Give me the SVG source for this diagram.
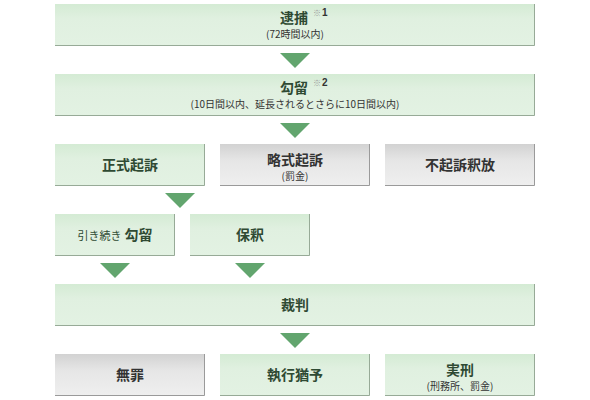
<svg xmlns="http://www.w3.org/2000/svg" width="590" height="400" viewBox="0 0 590 400">
<defs>
<linearGradient id="gG" x1="0" y1="0" x2="0" y2="1"><stop offset="0" stop-color="#d4ebd4"/><stop offset="0.35" stop-color="#e0f0e0"/><stop offset="1" stop-color="#e3f2e3"/></linearGradient>
<linearGradient id="gY" x1="0" y1="0" x2="0" y2="1"><stop offset="0" stop-color="#d2d2d2"/><stop offset="0.4" stop-color="#e6e6e6"/><stop offset="1" stop-color="#efefef"/></linearGradient>
</defs>
<style>
.g{fill:url(#gG)}
.y{fill:url(#gY)}
.sg{stroke:#97aa97;stroke-width:1;fill:none}
.sy{stroke:#9a9a9a;stroke-width:1;fill:none}
.t{font-family:"Noto Sans CJK JP","Noto Sans CJK SC",sans-serif;font-weight:bold;font-size:14px;text-anchor:middle}
.tg{fill:#2f4a33}
.ty{fill:#333}
.s{font-family:"Noto Sans CJK JP","Noto Sans CJK SC",sans-serif;font-size:10px;text-anchor:middle;fill:#333}
.n{font-family:"Noto Sans CJK JP",sans-serif;font-size:8px;fill:#999}
.nb{font-family:"Liberation Sans",sans-serif;font-size:10px;font-weight:bold;fill:#333}
.a{fill:#62a56e}
</style>
<g id="connectors">
<polygon class="a" points="280,53 310,53 295,68"/>
<polygon class="a" points="280,123 310,123 295,138"/>
<polygon class="a" points="165,193 195,193 180,208"/>
<polygon class="a" points="100,263 130,263 115,278"/>
<polygon class="a" points="235,263 265,263 250,278"/>
<polygon class="a" points="280,333 310,333 295,348"/>
</g>
<g id="arrest">
<rect class="g" x="55" y="4" width="480" height="42"/>
<polyline class="sg" points="534.5,4 534.5,45.5 55,45.5"/>
<text class="t tg" x="294" y="22.5">逮捕</text>
<text x="313" y="16"><tspan class="n">※</tspan><tspan class="nb" dx="1">1</tspan></text>
<text class="s" x="295" y="38">(72時間以内)</text>
</g>
<g id="detention">
<rect class="g" x="55" y="74" width="480" height="42"/>
<polyline class="sg" points="534.5,74 534.5,115.5 55,115.5"/>
<text class="t tg" x="294" y="92.5">勾留</text>
<text x="313" y="86"><tspan class="n">※</tspan><tspan class="nb" dx="1">2</tspan></text>
<text class="s" x="295" y="108">(10日間以内、延長されるとさらに10日間以内)</text>
</g>
<g id="formal">
<rect class="g" x="55" y="144" width="150" height="42"/>
<polyline class="sg" points="204.5,144 204.5,185.5 55,185.5"/>
<text class="t tg" x="130" y="170">正式起訴</text>
</g>
<g id="summary">
<rect class="y" x="220" y="144" width="150" height="42"/>
<polyline class="sy" points="369.5,144 369.5,185.5 220,185.5"/>
<text class="t ty" x="295" y="164.5">略式起訴</text>
<text class="s" x="295" y="180" font-size="9.5">(罰金)</text>
</g>
<g id="release">
<rect class="y" x="385" y="144" width="150" height="42"/>
<polyline class="sy" points="534.5,144 534.5,185.5 385,185.5"/>
<text class="t ty" x="460" y="170">不起訴釈放</text>
</g>
<g id="continued">
<rect class="g" x="55" y="214" width="120" height="42"/>
<polyline class="sg" points="174.5,214 174.5,255.5 55,255.5"/>
<text class="t tg" x="115" y="240"><tspan font-size="11" font-weight="normal">引き続き</tspan> 勾留</text>
</g>
<g id="bail">
<rect class="g" x="190" y="214" width="120" height="42"/>
<polyline class="sg" points="309.5,214 309.5,255.5 190,255.5"/>
<text class="t tg" x="250" y="240">保釈</text>
</g>
<g id="trial">
<rect class="g" x="55" y="284" width="480" height="42"/>
<polyline class="sg" points="534.5,284 534.5,325.5 55,325.5"/>
<text class="t tg" x="295" y="310">裁判</text>
</g>
<g id="innocent">
<rect class="y" x="55" y="354" width="150" height="42"/>
<polyline class="sy" points="204.5,354 204.5,395.5 55,395.5"/>
<text class="t ty" x="130" y="380">無罪</text>
</g>
<g id="suspended">
<rect class="g" x="220" y="354" width="150" height="42"/>
<polyline class="sg" points="369.5,354 369.5,395.5 220,395.5"/>
<text class="t tg" x="295" y="380">執行猶予</text>
</g>
<g id="sentence">
<rect class="g" x="385" y="354" width="150" height="42"/>
<polyline class="sg" points="534.5,354 534.5,395.5 385,395.5"/>
<text class="t tg" x="460" y="374.5">実刑</text>
<text class="s" x="460" y="390" font-size="9.5">(刑務所、罰金)</text>
</g>
</svg>
